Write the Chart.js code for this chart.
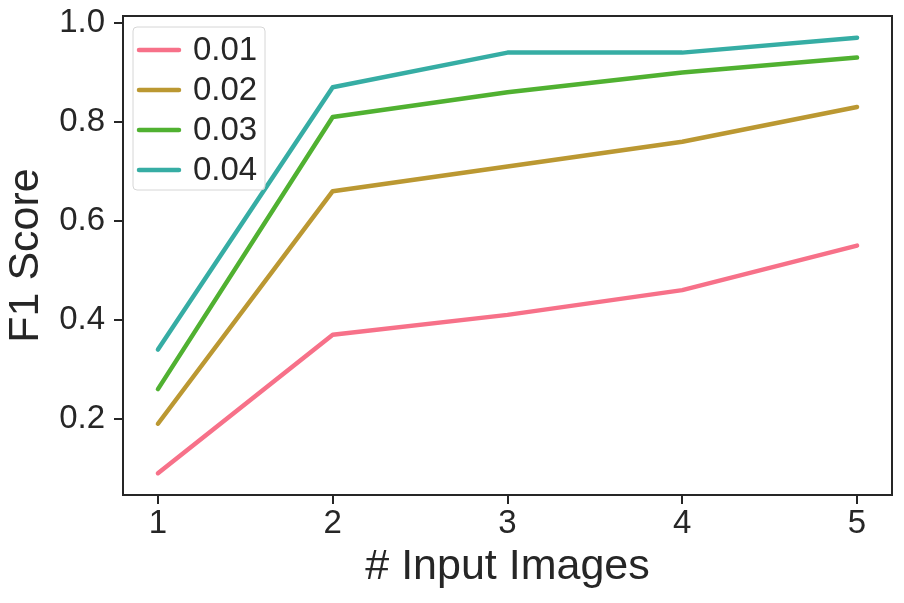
<!DOCTYPE html>
<html>
<head>
<meta charset="utf-8">
<script src="https://cdn.jsdelivr.net/npm/chart.js@4.4.1/dist/chart.umd.min.js"></script>
<style>
  html, body { margin: 0; padding: 0; background: #fff; }
  #wrap { width: 904px; height: 603px; }
</style>
</head>
<body>
<div id="wrap"><canvas id="chart" width="904" height="603"></canvas></div>
<script>
// number of input images (x axis)
var inputImages = [1, 2, 3, 4, 5];
// legend labels
var seriesLabels = ['0.01', '0.02', '0.03', '0.04'];
// F1 score per series
var f1_001 = [0.09, 0.37, 0.41, 0.46, 0.55];
var f1_002 = [0.19, 0.66, 0.71, 0.76, 0.83];
var f1_003 = [0.26, 0.81, 0.86, 0.90, 0.93];
var f1_004 = [0.34, 0.87, 0.94, 0.94, 0.97];
// tick labels
var yTicks = [0.2, 0.4, 0.6, 0.8, 1.0];
var xTicks = [1, 2, 3, 4, 5];

var colors = ['#f77189', '#bb9832', '#50b131', '#36ada4'];
var ink = '#262626';
var fontFam = '"Liberation Sans", Arial, sans-serif';

function toPoints(arr) {
    return inputImages.map(function (x, i) { return { x: x, y: arr[i] }; });
}

var allSeries = [f1_001, f1_002, f1_003, f1_004];
var datasets = allSeries.map(function (s, i) {
    return {
        label: seriesLabels[i],
        data: toPoints(s),
        borderColor: colors[i],
        backgroundColor: colors[i],
        borderWidth: 4.5,
        pointRadius: 0,
        tension: 0,
        borderCapStyle: 'round',
        borderJoinStyle: 'round'
    };
});

// box around plot + legend inside plot
var framePlugin = {
    id: 'frame',
    afterDatasetsDraw: function (chart) {
        var ctx = chart.ctx, a = chart.chartArea;
        ctx.save();
        ctx.strokeStyle = ink;
        ctx.lineWidth = 2;
        ctx.strokeRect(a.left, a.top, a.right - a.left, a.bottom - a.top);

        // legend
        var bx = a.left + 10, by = a.top + 11, bw = 132, bh = 163;
        ctx.fillStyle = 'rgba(255,255,255,0.8)';
        ctx.strokeStyle = '#d6d6d6';
        ctx.lineWidth = 1;
        ctx.beginPath();
        ctx.roundRect(bx, by, bw, bh, 4);
        ctx.fill();
        ctx.stroke();
        ctx.font = '33px ' + fontFam;
        ctx.textBaseline = 'middle';
        chart.data.datasets.forEach(function (ds, i) {
            var yy = by + 23 + i * 40;
            ctx.strokeStyle = ds.borderColor;
            ctx.lineWidth = 4.5;
            ctx.lineCap = 'round';
            ctx.beginPath();
            ctx.moveTo(bx + 6, yy);
            ctx.lineTo(bx + 46, yy);
            ctx.stroke();
            ctx.fillStyle = ink;
            ctx.fillText(ds.label, bx + 60, yy + 1);
        });
        ctx.restore();
    }
};

new Chart(document.getElementById('chart'), {
    type: 'line',
    data: { datasets: datasets },
    plugins: [framePlugin],
    options: {
        responsive: false,
        animation: false,
        layout: { padding: { top: 16, right: 12, left: 0, bottom: 0 } },
        plugins: { legend: { display: false }, tooltip: { enabled: false } },
        scales: {
            x: {
                type: 'linear',
                min: 0.8,
                max: 5.2,
                afterBuildTicks: function (axis) {
                    axis.ticks = xTicks.map(function (v) { return { value: v }; });
                },
                afterFit: function (axis) { axis.height = 108; axis.paddingLeft = 0; axis.paddingRight = 0; },
                grid: { drawOnChartArea: false, drawTicks: true, tickLength: 9, color: ink, lineWidth: 2 },
                border: { display: true, color: ink, width: 2 },
                ticks: { color: ink, font: { family: fontFam, size: 33 }, padding: 0, maxRotation: 0 },
                title: { display: true, text: '# Input Images', color: ink, font: { family: fontFam, size: 43 }, padding: { top: 0, bottom: 10 } }
            },
            y: {
                min: 0.046,
                max: 1.014,
                afterBuildTicks: function (axis) {
                    axis.ticks = yTicks.map(function (v) { return { value: v }; });
                },
                afterFit: function (axis) { axis.width = 123; axis.paddingTop = 0; axis.paddingBottom = 0; },
                grid: { drawOnChartArea: false, drawTicks: true, tickLength: 9, color: ink, lineWidth: 2 },
                border: { display: true, color: ink, width: 2 },
                ticks: {
                    color: ink, font: { family: fontFam, size: 33 }, padding: 9,
                    callback: function (v) { return v.toFixed(1); }
                },
                title: { display: true, text: 'F1 Score', color: ink, font: { family: fontFam, size: 43 }, padding: { top: 0, bottom: 2 } }
            }
        }
    }
});
</script>
</body>
</html>
